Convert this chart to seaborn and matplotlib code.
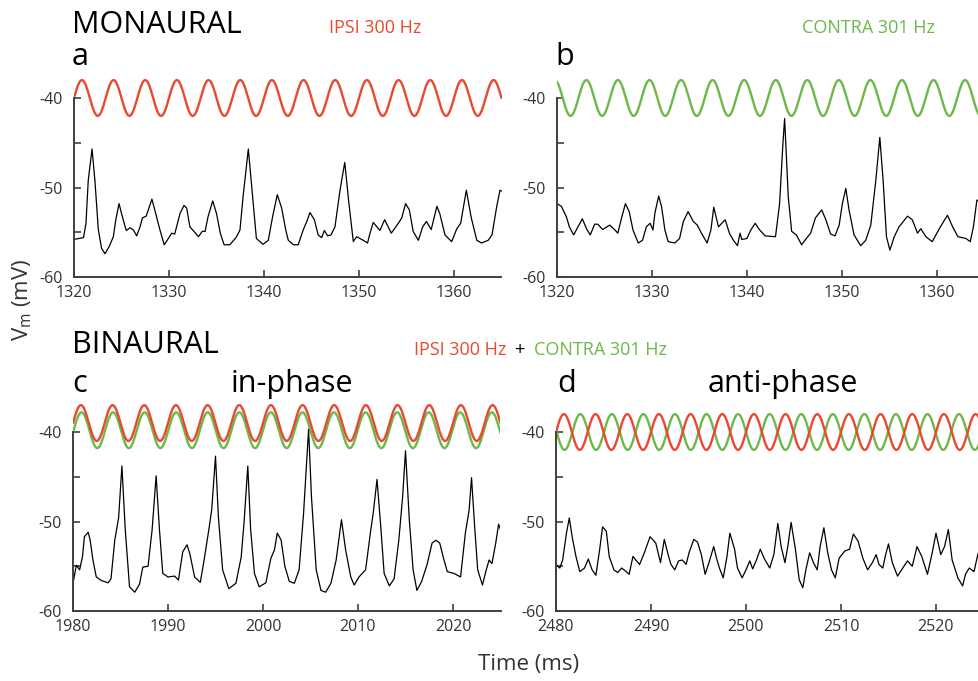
"""Membrane potential responses to monaural and binaural tones (panels a-d)."""

import numpy as np
import matplotlib
matplotlib.use("Agg")
import matplotlib.pyplot as plt
import seaborn as sns

# ── Stimulus tones ─────────────────────────────────────────────────────────────
IPSI_HZ = 300
CONTRA_HZ = 301
IPSI_LABEL = "IPSI 300 Hz"
CONTRA_LABEL = "CONTRA 301 Hz"

A_T = [1320.0, 1321.0, 1321.26, 1321.5, 1321.9, 1322.2, 1322.56, 1322.9, 1323.26, 1323.7,
       1324.14, 1324.4, 1324.74, 1325.1, 1325.5, 1325.9, 1326.25, 1326.6, 1326.95, 1327.2,
       1327.6, 1328.2, 1328.5, 1329.05, 1329.5, 1329.93, 1330.28, 1330.6, 1331.16, 1331.58,
       1331.86, 1332.2, 1332.63, 1333.1, 1333.5, 1333.8, 1334.1, 1334.6, 1335.0, 1335.4,
       1335.8, 1336.4, 1337.05, 1337.47, 1337.8, 1338.35, 1338.8, 1339.2, 1339.9, 1340.45,
       1340.9, 1341.4, 1341.86, 1342.3, 1342.56, 1343.1, 1343.6, 1344.14, 1344.5, 1344.84,
       1345.3, 1345.7, 1346.07, 1346.35, 1346.7, 1347.05, 1347.47, 1348.0, 1348.5, 1348.9,
       1349.4, 1349.75, 1350.45, 1350.9, 1351.16, 1351.5, 1352.2, 1352.7, 1353.4, 1354.14,
       1354.5, 1354.9, 1355.3, 1355.7, 1356.25, 1356.7, 1357.1, 1357.6, 1358.2, 1358.5,
       1359.05, 1359.75, 1360.3, 1360.7, 1361.3, 1361.8, 1362.4, 1362.9, 1363.6, 1364.0,
       1364.5, 1364.84, 1365.0]
A_V = [-55.8, -55.6, -54.0, -49.2, -45.7, -49.2, -54.7, -56.8, -57.4, -56.6,
       -55.5, -53.6, -51.8, -53.3, -54.8, -54.5, -54.75, -55.4, -54.4, -53.4,
       -53.2, -51.3, -52.5, -54.75, -56.4, -55.7, -55.1, -55.2, -52.9, -52.0,
       -52.3, -54.4, -54.9, -55.5, -54.9, -54.9, -53.3, -51.5, -52.9, -55.1,
       -56.4, -56.4, -55.6, -54.75, -51.0, -45.7, -51.0, -55.7, -56.35, -55.9,
       -53.3, -50.8, -52.3, -54.8, -55.9, -56.4, -56.4, -54.7, -53.8, -52.8,
       -53.6, -55.3, -55.6, -54.8, -55.4, -55.3, -54.4, -50.3, -47.2, -51.4,
       -56.05, -55.5, -55.9, -56.2, -55.1, -53.9, -54.8, -53.6, -55.1, -54.0,
       -53.4, -51.8, -52.5, -54.9, -55.9, -54.4, -53.8, -54.7, -52.1, -52.9,
       -55.3, -56.05, -54.6, -54.0, -50.3, -53.3, -55.9, -56.2, -55.9, -55.3,
       -52.1, -50.3, -50.4]

B_T = [1320.0, 1320.46, 1321.0, 1321.3, 1321.76, 1322.2, 1322.67, 1323.1, 1323.5, 1323.97,
       1324.3, 1324.8, 1325.56, 1326.1, 1326.4, 1326.8, 1327.2, 1327.6, 1328.0, 1328.55,
       1329.0, 1329.4, 1329.8, 1330.1, 1330.3, 1330.7, 1331.0, 1331.36, 1331.7, 1332.4,
       1332.9, 1333.3, 1333.8, 1334.35, 1334.77, 1335.2, 1335.8, 1336.2, 1336.5, 1337.0,
       1337.34, 1337.7, 1338.15, 1338.57, 1339.0, 1339.27, 1339.45, 1339.98, 1340.4, 1340.86,
       1341.3, 1341.9, 1343.0, 1343.43, 1343.78, 1343.96, 1344.34, 1344.7, 1345.2, 1345.75,
       1346.24, 1346.7, 1347.2, 1347.86, 1348.3, 1348.8, 1349.27, 1349.7, 1350.04, 1350.4,
       1350.74, 1351.27, 1351.97, 1352.5, 1353.03, 1353.56, 1353.98, 1354.33, 1354.68, 1355.04,
       1355.5, 1356.0, 1356.9, 1357.4, 1357.95, 1358.3, 1358.83, 1359.5, 1360.24, 1361.1,
       1361.65, 1362.2, 1363.05, 1363.5, 1363.83, 1364.2, 1364.5, 1365.0]
B_V = [-51.8, -52.1, -53.3, -54.4, -55.3, -54.4, -53.5, -54.6, -55.3, -54.1,
       -54.1, -54.7, -54.2, -54.75, -55.1, -53.4, -51.8, -52.7, -54.75, -56.2,
       -55.9, -54.4, -54.0, -54.75, -52.9, -50.95, -52.1, -54.75, -56.05, -56.2,
       -55.7, -53.8, -52.7, -53.8, -54.2, -55.1, -56.2, -54.75, -52.2, -54.4,
       -54.0, -53.6, -55.1, -55.9, -56.5, -55.1, -55.8, -55.7, -54.75, -54.0,
       -54.7, -55.4, -55.5, -51.8, -45.1, -42.3, -51.0, -54.9, -55.3, -56.4,
       -55.7, -55.1, -53.4, -52.5, -53.6, -55.2, -55.4, -54.2, -51.8, -50.1,
       -52.5, -55.3, -56.5, -55.9, -54.2, -49.2, -44.4, -49.2, -55.5, -57.0,
       -55.5, -54.4, -53.2, -53.6, -55.1, -54.6, -55.5, -56.05, -54.6, -53.1,
       -54.4, -55.5, -55.7, -56.05, -54.4, -51.4, -51.6, -51.7]

C_T = [1980.0, 1980.35, 1980.7, 1981.0, 1981.2, 1981.6, 1981.8, 1982.1, 1982.45, 1983.0,
       1983.7, 1984.0, 1984.4, 1984.8, 1985.15, 1985.5, 1985.95, 1986.5, 1987.0, 1987.35,
       1987.9, 1988.33, 1988.75, 1989.1, 1989.45, 1990.0, 1990.7, 1991.1, 1991.55, 1992.0,
       1992.3, 1992.8, 1993.4, 1993.8, 1994.3, 1994.6, 1995.0, 1995.3, 1995.75, 1996.4,
       1997.15, 1997.7, 1998.0, 1998.4, 1998.7, 1999.1, 1999.6, 2000.3, 2000.83, 2001.2,
       2001.5, 2001.9, 2002.3, 2002.77, 2003.3, 2003.8, 2004.27, 2004.8, 2005.1, 2005.6,
       2006.1, 2006.6, 2007.15, 2007.7, 2008.26, 2008.7, 2009.24, 2009.6, 2010.1, 2010.8,
       2011.35, 2011.6, 2012.0, 2012.4, 2012.75, 2013.3, 2013.8, 2014.3, 2014.7, 2015.0,
       2015.4, 2015.8, 2016.2, 2016.7, 2017.3, 2017.8, 2018.2, 2018.6, 2019.0, 2019.4,
       2020.1, 2020.8, 2021.3, 2021.7, 2021.95, 2022.3, 2022.6, 2023.1, 2023.5, 2023.8,
       2024.1, 2024.5, 2024.8, 2025.0]
C_V = [-56.9, -54.9, -55.4, -53.9, -51.7, -51.2, -52.05, -54.3, -56.2, -56.6,
       -56.85, -56.4, -52.05, -49.6, -43.8, -50.9, -57.3, -57.9, -57.0, -55.1,
       -55.0, -50.9, -44.9, -50.9, -55.8, -56.2, -56.1, -56.55, -53.4, -52.6,
       -53.6, -56.2, -56.8, -54.3, -50.9, -48.7, -42.7, -49.4, -55.4, -57.5,
       -56.9, -54.0, -50.2, -43.8, -50.9, -55.8, -57.3, -56.85, -54.1, -53.2,
       -51.3, -52.05, -55.0, -56.7, -56.9, -55.4, -49.1, -39.7, -47.2, -55.4,
       -57.7, -57.9, -56.9, -54.3, -49.8, -53.2, -56.2, -57.1, -56.2, -55.4,
       -50.9, -49.1, -45.3, -50.6, -55.8, -57.2, -56.4, -52.05, -47.2, -42.1,
       -49.8, -55.4, -57.7, -56.7, -54.7, -52.4, -52.1, -52.4, -54.1, -55.6,
       -55.8, -56.2, -51.3, -48.7, -45.1, -50.9, -55.4, -57.1, -55.4, -54.3,
       -54.7, -52.4, -50.3, -50.9]

D_T = [2480.0, 2480.4, 2480.7, 2481.1, 2481.4, 2481.7, 2482.1, 2482.5, 2483.0, 2483.4,
       2483.8, 2484.2, 2484.6, 2484.9, 2485.3, 2485.6, 2486.1, 2486.5, 2486.9, 2487.4,
       2487.7, 2488.1, 2488.4, 2488.8, 2489.3, 2489.9, 2490.5, 2491.0, 2491.4, 2491.8,
       2492.1, 2492.5, 2492.9, 2493.3, 2493.7, 2494.0, 2494.5, 2494.9, 2495.3, 2495.7,
       2496.1, 2496.6, 2496.9, 2497.2, 2497.6, 2498.0, 2498.3, 2498.8, 2499.1, 2499.6,
       2500.0, 2500.4, 2500.7, 2501.1, 2501.5, 2501.95, 2502.5, 2502.93, 2503.35, 2503.7,
       2504.1, 2504.4, 2504.75, 2505.2, 2505.6, 2505.98, 2506.3, 2506.7, 2507.1, 2507.5,
       2507.8, 2508.2, 2508.6, 2509.0, 2509.4, 2509.8, 2510.4, 2510.9, 2511.3, 2511.8,
       2512.3, 2512.8, 2513.3, 2513.7, 2514.0, 2514.4, 2514.7, 2515.0, 2515.4, 2515.95,
       2516.5, 2517.0, 2517.5, 2518.0, 2518.5, 2519.1, 2519.6, 2520.0, 2520.5, 2520.9,
       2521.3, 2521.7, 2522.3, 2522.8, 2523.1, 2523.5, 2524.0, 2524.4, 2525.0]
D_V = [-54.8, -55.2, -54.3, -51.3, -49.6, -51.7, -53.9, -55.6, -55.2, -54.2,
       -55.4, -56.0, -53.1, -50.6, -51.1, -53.9, -55.4, -55.7, -55.2, -55.6,
       -55.9, -53.9, -54.3, -54.8, -53.5, -51.7, -52.4, -54.6, -52.0, -53.7,
       -54.8, -55.4, -54.4, -54.3, -54.8, -53.5, -52.0, -52.3, -53.7, -55.9,
       -54.6, -52.8, -54.1, -55.2, -56.3, -53.9, -51.3, -53.1, -55.2, -56.3,
       -55.4, -54.4, -55.3, -54.3, -53.1, -54.2, -55.2, -53.7, -50.2, -52.8,
       -54.6, -52.8, -50.1, -53.1, -56.5, -57.4, -55.4, -53.5, -54.6, -55.4,
       -52.8, -50.7, -53.5, -55.4, -56.3, -54.1, -53.3, -53.1, -51.4, -52.2,
       -54.1, -55.4, -54.6, -53.7, -54.8, -55.2, -53.7, -52.5, -54.6, -56.1,
       -55.2, -54.4, -55.0, -52.8, -53.9, -55.9, -53.5, -51.3, -53.7, -52.8,
       -50.9, -54.3, -56.3, -57.2, -55.9, -55.2, -55.6, -53.7, -52.0]

X_TICKS_A = [1320, 1330, 1340, 1350, 1360]
X_TICKS_C = [1980, 1990, 2000, 2010, 2020]
X_TICKS_D = [2480, 2490, 2500, 2510, 2520]
Y_TICKS = [-60, -55, -50, -45, -40]
Y_TICK_LABELS = ["-60", "", "-50", "", "-40"]

# ── Styling ────────────────────────────────────────────────────────────────────
RED = "#e8492f"
GREEN = "#6db848"
SPINE = "#3f3f3f"
W, H = 979, 681
PX_MS, PX_MV = 9.5, 8.95
WINDOW = 45
YLIM = (-60, -36.5)

sns.set_theme(style="ticks")
plt.rcParams["font.family"] = ["Open Sans", "DejaVu Sans"]
plt.rcParams["mathtext.fontset"] = "custom"
plt.rcParams["mathtext.rm"] = "Open Sans"
plt.rcParams["mathtext.it"] = "Open Sans:italic"

fig = plt.figure(figsize=(W / 100, H / 100), dpi=100)
fig.patch.set_facecolor("white")


def tone(t, hz, center):
    return center + 2.0 * np.sin(2 * np.pi * hz * t / 1000.0)


def draw_panel(left_px, base_px, t, v, xticks, tones):
    ax = fig.add_axes([left_px / W, (H - base_px) / H,
                       WINDOW * PX_MS / W, (YLIM[1] - YLIM[0]) * PX_MV / H])
    ax.set_facecolor("none")
    tt = np.linspace(xticks[0], xticks[0] + WINDOW, 3000)
    for hz, center, color in tones:
        sns.lineplot(x=tt, y=tone(tt, hz, center), ax=ax, color=color,
                     linewidth=1.7, estimator=None, sort=False)
    sns.lineplot(x=t, y=v, ax=ax, color="black", linewidth=0.9,
                 estimator=None, sort=False)
    ax.set_xlim(xticks[0], xticks[0] + WINDOW)
    ax.set_ylim(*YLIM)
    ax.set_xticks(xticks)
    ax.set_xticklabels([str(x) for x in xticks])
    ax.set_yticks(Y_TICKS)
    ax.set_yticklabels(Y_TICK_LABELS)
    ax.set_xlabel("")
    ax.set_ylabel("")
    sns.despine(ax=ax)
    ax.spines["left"].set_bounds(-60, -40)
    for side in ("left", "bottom"):
        ax.spines[side].set_color(SPINE)
        ax.spines[side].set_linewidth(1.4)
    ax.tick_params(direction="in", length=5, width=1.2, color=SPINE,
                   labelsize=11.5, labelcolor="#333333")
    ax.tick_params(axis="x", pad=6)
    ax.tick_params(axis="y", pad=8)
    return ax


def label(x, y, s, **kw):
    fig.text(x / W, 1 - y / H, s, va="baseline", **kw)


draw_panel(74, 277, A_T, A_V, X_TICKS_A, [(IPSI_HZ, -40.0, RED)])
draw_panel(557, 277, B_T, B_V, X_TICKS_A, [(CONTRA_HZ, -40.0, GREEN)])
draw_panel(73, 611, C_T, C_V, X_TICKS_C,
           [(CONTRA_HZ, -39.8, GREEN), (IPSI_HZ, -39.0, RED)])
draw_panel(556, 611, D_T, D_V, X_TICKS_D,
           [(CONTRA_HZ, -40.0, GREEN), (IPSI_HZ, -40.0, RED)])

# headings and panel letters
label(72, 33, "MONAURAL", fontsize=22, color="black")
label(72, 65, "a", fontsize=22, color="black")
label(555, 65, "b", fontsize=22, color="black")
label(329, 33, IPSI_LABEL, fontsize=13, color=RED)
label(802, 33, CONTRA_LABEL, fontsize=13, color=GREEN)

label(72, 353, "BINAURAL", fontsize=22, color="black")
label(414, 355, IPSI_LABEL, fontsize=13, color=RED)
label(514, 355, "+", fontsize=13, color="black")
label(534, 355, CONTRA_LABEL, fontsize=13, color=GREEN)
label(72, 392, "c", fontsize=22, color="black")
label(292, 392, "in-phase", fontsize=22, color="black", ha="center")
label(557, 392, "d", fontsize=22, color="black")
label(783, 392, "anti-phase", fontsize=22, color="black", ha="center")

fig.text(529 / W, 1 - 670 / H, "Time (ms)", fontsize=16, color="#333333",
         ha="center", va="baseline")
fig.text(22 / W, 1 - 300 / H, r"V$_{\mathrm{m}}$ (mV)", fontsize=16,
         color="#333333", rotation=90, ha="center", va="center")

fig.savefig("out.png", dpi=100, facecolor="white")
